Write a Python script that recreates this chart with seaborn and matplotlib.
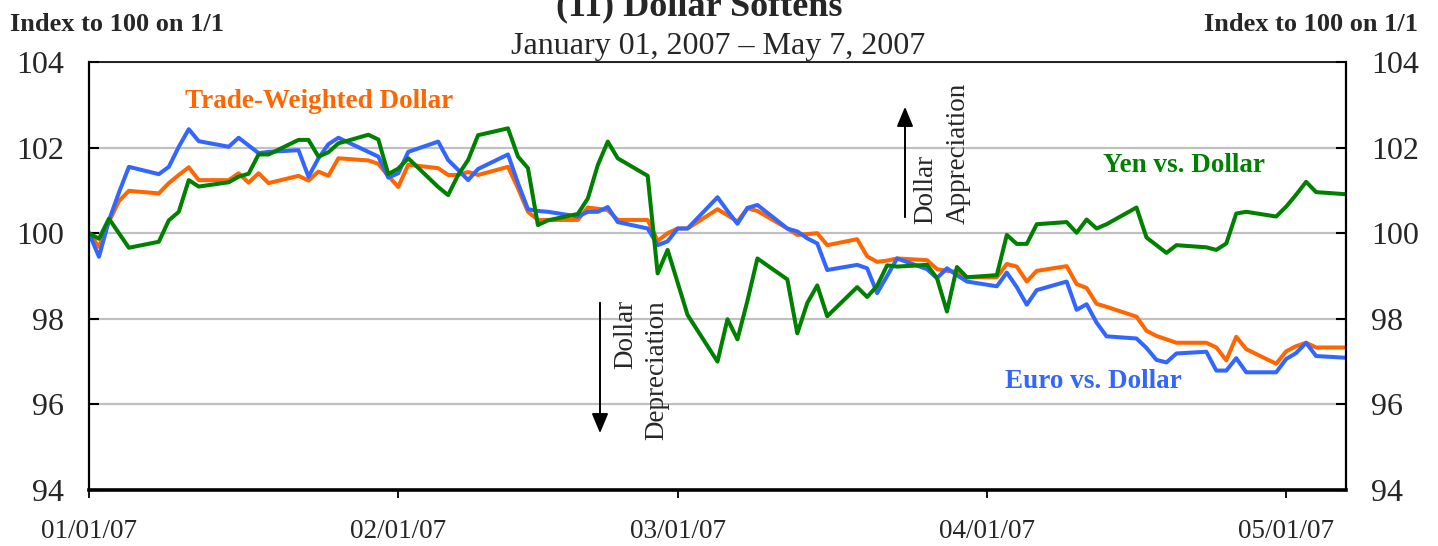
import numpy as np
import pandas as pd
import matplotlib
matplotlib.use("Agg")
import matplotlib.pyplot as plt
import matplotlib.dates as mdates
import seaborn as sns

# business days, Jan 1 - May 7 2007
dates = pd.bdate_range("2007-01-01", "2007-05-07")

trade_weighted = [
    100.00, 99.68, 100.27, 100.75, 100.99, 100.93, 101.17, 101.36, 101.54, 101.24, 101.24, 101.40,
    101.18, 101.40, 101.17, 101.34, 101.23, 101.44, 101.34, 101.75, 101.70, 101.62, 101.34,
    101.08, 101.60, 101.52, 101.36, 101.36, 101.43, 101.36, 101.55, 101.05, 100.50, 100.31, 100.31,
    100.31, 100.60, 100.57, 100.54, 100.31, 100.31, 99.82, 100.00,
    100.11, 100.11, 100.56, 100.42, 100.27, 100.58, 100.52, 100.11, 99.96, 99.98, 100.00, 99.72,
    99.86, 99.46, 99.33, 99.36, 99.41, 99.37, 99.16, 99.12, 99.10, 98.97,
    98.97, 99.28, 99.22, 98.87, 99.12, 99.23, 98.81, 98.72, 98.35, 98.28, 98.05, 97.72,
    97.60, 97.52, 97.44, 97.44, 97.33, 97.03, 97.58, 97.29, 96.95,
    97.24, 97.36, 97.44, 97.33, 97.33,
]
euro = [
    100.00, 99.45, 100.30, 100.95, 101.55, 101.38, 101.55, 102.02, 102.43, 102.15, 102.02, 102.23,
    102.05, 101.87, 101.90, 101.94, 101.32, 101.75, 102.08, 102.23, 101.90, 101.79, 101.30,
    101.40, 101.90, 102.14, 101.71, 101.48, 101.24, 101.50, 101.84, 101.17, 100.56, 100.52, 100.50,
    100.39, 100.50, 100.50, 100.61, 100.26, 100.11, 99.72, 99.81,
    100.11, 100.11, 100.84, 100.52, 100.22, 100.59, 100.66, 100.11, 100.04, 99.88, 99.76, 99.14,
    99.26, 99.18, 98.60, 99.00, 99.41, 99.16, 98.95, 99.18, 99.02, 98.87,
    98.76, 99.08, 98.74, 98.33, 98.67, 98.87, 98.21, 98.34, 97.91, 97.59, 97.54, 97.32,
    97.04, 96.98, 97.19, 97.23, 96.79, 96.79, 97.08, 96.75, 96.75,
    97.06, 97.20, 97.44, 97.13, 97.09,
]
yen = [
    100.00, 99.87, 100.34, 100.00, 99.66, 99.80, 100.30, 100.50, 101.24, 101.09, 101.19, 101.32,
    101.39, 101.84, 101.84, 102.18, 102.18, 101.79, 101.89, 102.10, 102.30, 102.19, 101.38,
    101.51, 101.75, 101.08, 100.89, 101.36, 101.71, 102.29, 102.45, 101.79, 101.52, 100.19, 100.30,
    100.45, 100.81, 101.59, 102.14, 101.75, 101.34, 99.06, 99.61,
    98.85, 98.09, 97.00, 97.99, 97.52, 98.42, 99.41, 98.92, 97.66, 98.37, 98.78, 98.06,
    98.74, 98.51, 98.77, 99.25, 99.22, 99.26, 98.95, 98.17, 99.21, 98.97,
    99.02, 99.96, 99.75, 99.75, 100.21, 100.26, 100.01, 100.32, 100.11, 100.21, 100.60, 99.90,
    99.72, 99.54, 99.72, 99.67, 99.61, 99.76, 100.46, 100.50, 100.39,
    100.62, 100.90, 101.20, 100.96, 100.91,
]

series_names = ["Trade-Weighted Dollar", "Euro vs. Dollar", "Yen vs. Dollar"]
series_colors = ["#FF6600", "#3366FF", "#008000"]
y_ticks = [94, 96, 98, 100, 102, 104]
x_ticks = ["2007-01-01", "2007-02-01", "2007-03-01", "2007-04-01", "2007-05-01"]

df = pd.concat([
    pd.DataFrame({"date": dates, "value": vals, "series": name})
    for name, vals in zip(series_names, [trade_weighted, euro, yen])
])

sns.set_theme(style="white")
plt.rcParams["font.family"] = ["Liberation Serif", "DejaVu Serif"]

W, H = 1438, 546
fig = plt.figure(figsize=(W / 100, H / 100), dpi=100)
ax = fig.add_axes([89 / W, 1 - 490 / H, (1346 - 89) / W, (490 - 62) / H])

sns.lineplot(data=df, x="date", y="value", hue="series", hue_order=series_names,
             palette=series_colors, linewidth=2.9, legend=False, ax=ax)

ax.set_xlim(pd.Timestamp("2007-01-01"), pd.Timestamp("2007-05-07"))
ax.set_ylim(94, 104)
ax.set_yticks(y_ticks)
ax.set_xticks(pd.to_datetime(x_ticks))
ax.xaxis.set_major_formatter(mdates.DateFormatter("%m/%d/%y"))
ax.set_xlabel("")
ax.set_ylabel("")
ax.yaxis.grid(True, color="#c0c0c0", lw=1.6)
ax.xaxis.grid(False)
ax.set_axisbelow(True)

for side, lw in [("top", 1.2), ("left", 1.6), ("right", 1.6), ("bottom", 2.6)]:
    ax.spines[side].set_color("black")
    ax.spines[side].set_linewidth(lw)

ax.tick_params(axis="y", which="major", direction="in", length=7, width=1.5, color="black",
               left=True, right=True, labelleft=True, labelright=True, labelsize=23, pad=18)
ax.tick_params(axis="x", which="major", direction="out", length=6, width=1.3, color="black",
               bottom=True, labelsize=19.5, pad=15)

def fx(x):
    return x / W

def fy(y):
    return 1 - y / H

fig.text(fx(699), fy(15), "(11) Dollar Softens", ha="center", va="baseline",
         fontsize=26, fontweight="bold")
fig.text(fx(718), fy(54), "January 01, 2007 \u2013 May 7, 2007", ha="center", va="baseline",
         fontsize=23)
fig.text(fx(10), fy(31), "Index to 100 on 1/1", ha="left", va="baseline",
         fontsize=19, fontweight="bold")
fig.text(fx(1418), fy(31), "Index to 100 on 1/1", ha="right", va="baseline",
         fontsize=19, fontweight="bold")

fig.text(fx(185), fy(101), "Trade-Weighted Dollar", color=series_colors[0], ha="left",
         va="center", fontsize=19.5, fontweight="bold")
fig.text(fx(1103), fy(165), "Yen vs. Dollar", color=series_colors[2], ha="left",
         va="center", fontsize=19.5, fontweight="bold")
fig.text(fx(1005), fy(382), "Euro vs. Dollar", color=series_colors[1], ha="left",
         va="center", fontsize=19.5, fontweight="bold")

# appreciation / depreciation notes
fig.text(fx(926), fy(224), "Dollar", rotation=90, ha="center", va="bottom", fontsize=19.5)
fig.text(fx(958), fy(224), "Appreciation", rotation=90, ha="center", va="bottom", fontsize=19.5)
fig.text(fx(626), fy(300), "Dollar", rotation=90, ha="center", va="top", fontsize=19.5)
fig.text(fx(657), fy(300), "Depreciation", rotation=90, ha="center", va="top", fontsize=19.5)

arrow = dict(arrowstyle="-|>,head_length=0.6,head_width=0.25", color="black", lw=1.4)
fig.add_artist(matplotlib.patches.FancyArrowPatch((fx(905), fy(220)), (fx(905), fy(104)),
               transform=fig.transFigure, mutation_scale=20, **arrow))
fig.add_artist(matplotlib.patches.FancyArrowPatch((fx(600), fy(300)), (fx(600), fy(436)),
               transform=fig.transFigure, mutation_scale=20, **arrow))

fig.savefig("out.png", dpi=100)
